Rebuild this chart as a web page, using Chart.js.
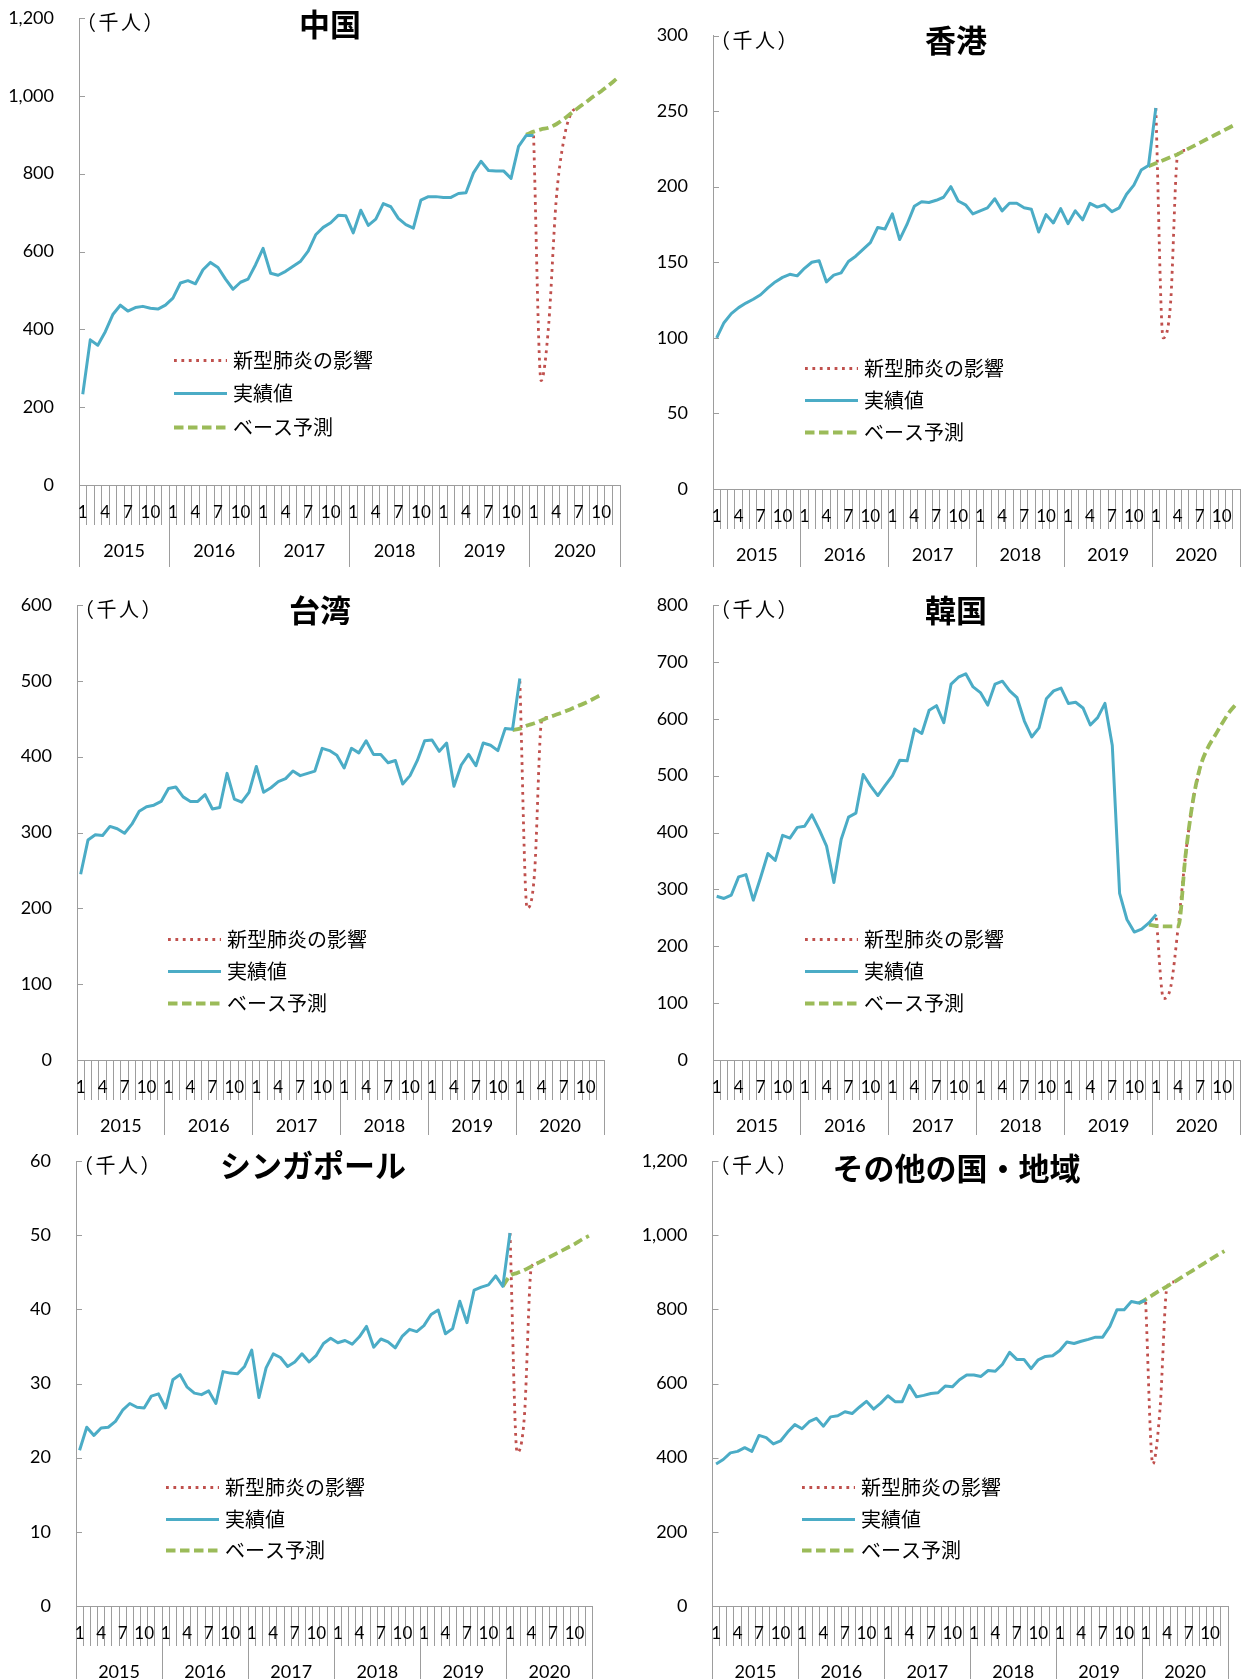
<!DOCTYPE html>
<html lang="ja">
<head>
<meta charset="utf-8">
<title>訪日外客数の見通し</title>
<script src="https://cdn.jsdelivr.net/npm/chart.js@4/dist/chart.umd.min.js"></script>
<style>
  html, body { margin: 0; padding: 0; background: #fff; }
  #wrap { position: relative; width: 1245px; height: 1679px; overflow: hidden; }
  #wrap canvas { position: absolute; }
</style>
</head>
<body>
<div id="wrap"></div>
<script>
// ---- tick labels ----
const monthTicks = ['1', '', '', '4', '', '', '7', '', '', '10', '', ''];
const yearLabels = ['2015', '2016', '2017', '2018', '2019', '2020'];
const seriesNames = ['新型肺炎の影響', '実績値', 'ベース予測'];
const unitLabel = '（千人）';

// ---- monthly values, thousand persons ----
// actual: Jan 2015 - Jan 2020, base: Dec 2019 - Dec 2020, impact: from Jan 2020
const chinaActual = [233, 373, 359, 394, 438, 462, 447, 456, 459, 454, 452, 462,
  480, 519, 525, 517, 553, 572, 559, 529, 503, 521, 529, 566,
  608, 544, 539, 549, 562, 575, 601, 643, 662, 674, 693, 692,
  648, 706, 667, 683, 723, 715, 685, 669, 660, 732, 741, 741,
  739, 739, 749, 751, 802, 832, 808, 807, 807, 788, 870, 898,
  898];
const chinaBase = [900, 908, 914, 918, 927, 940, 955, 970, 984, 999, 1012, 1027, 1043];
const chinaImpact = [898, 268, 410, 730, 885, 955, 970];

const hongkongActual = [100, 110, 116, 120, 123, 125.5, 128.5, 133, 137, 140, 142, 141,
  146, 150, 151, 137, 141.5, 143, 150.5, 154, 158.5, 163, 173, 172,
  182, 165, 175, 187, 190, 189.5, 191, 193, 200, 190.5, 188, 182,
  184, 186, 192, 184, 189, 189, 186, 185, 170, 181.5, 176, 185.5,
  175.5, 184, 178, 189, 186.5, 188, 183.5, 186, 195, 201, 211, 214,
  252];
const hongkongBase = [213.5, 215.5, 217.5, 219.5, 221.5, 224, 226.5, 229, 231.5, 234, 236.5, 239, 241.5];
const hongkongImpact = [252, 100, 122, 221.5, 224];

const taiwanActual = [245, 290, 297, 296, 308, 305, 299, 311, 328, 334, 336, 341,
  358, 360, 347, 341, 341, 350, 331, 333, 378, 344, 340, 353,
  387, 353, 359, 367, 371, 381, 375, 378, 381, 411, 408, 402,
  385, 411, 405, 421, 403, 403, 392, 395, 364, 375, 395, 421,
  422, 407, 418, 361, 389, 403, 388, 418, 415, 408, 437, 436,
  503];
const taiwanBase = [435, 437, 441, 444, 448, 452, 455.5, 459, 463, 467, 471, 476, 481];
const taiwanImpact = [500, 200, 245, 448, 452];

const koreaActual = [288, 284, 290, 322, 326, 281, 321, 363, 351, 395, 390, 409,
  411, 431, 405, 376, 312, 388, 427, 434, 502, 482, 465, 483,
  500, 527, 526, 582, 574, 615, 623, 593, 661, 673, 679, 656,
  646, 624, 661, 666, 649, 637, 596, 568, 584, 635, 649, 654,
  627, 629, 619, 589, 602, 627, 553, 293, 247, 225, 230, 241,
  256];
const koreaBase = [238, 236, 235, 235, 235, 360, 455, 515, 548, 570, 592, 612, 627];
const koreaImpact = [250, 108, 130, 235, 360, 455, 515];

const singaporeActual = [21.0, 24.1, 23.0, 24.0, 24.1, 24.9, 26.4, 27.3, 26.8, 26.7, 28.3, 28.6,
  26.7, 30.5, 31.2, 29.5, 28.7, 28.5, 29.0, 27.3, 31.6, 31.4, 31.3, 32.3,
  34.5, 28.1, 32.1, 34.0, 33.5, 32.3, 32.9, 34.0, 32.9, 33.8, 35.4, 36.1,
  35.5, 35.8, 35.3, 36.3, 37.7, 34.9, 36.0, 35.6, 34.8, 36.4, 37.3, 37.0,
  37.8, 39.3, 39.9, 36.7, 37.4, 41.1, 38.2, 42.6, 43.0, 43.3, 44.5, 43.1,
  50.3];
const singaporeBase = [43.1, 44.5, 44.9, 45.3, 45.8, 46.3, 46.8, 47.3, 47.8, 48.3, 48.8, 49.4, 49.9];
const singaporeImpact = [50.3, 20.7, 25.5, 45.8, 46.3];

const othersActual = [383, 395, 413, 417, 427, 417, 460, 454, 437, 445, 469, 489,
  478, 497, 506, 485, 510, 513, 524, 519, 536, 552, 531, 547,
  567, 551, 551, 595, 564, 568, 573, 575, 593, 591, 610, 623,
  623, 619, 635, 633, 652, 684, 665, 665, 640, 664, 673, 675,
  689, 712, 708, 714, 719, 725, 725, 754, 799, 799, 821, 817,
  825];
const othersBase = [816, 827, 839, 851, 862, 874, 886, 898, 910, 922, 934, 946, 957];
const othersImpact = [820, 383, 530, 862, 874];

// ---- drawing ----
const AXIS_GRAY = '#9d9d9d';
const BLUE = '#4BACC6', GREEN = '#9BBB59', RED = '#C0504D';
const NUM_FONT = 'Lato';
const JP_FONT = '"Noto Sans CJK JP", "Noto Sans CJK SC", sans-serif';

const monthLabels = [];
yearLabels.forEach(() => monthTicks.forEach(m => monthLabels.push(m)));
const N = monthLabels.length;
const BASE_START = N - 13;   // Dec 2019
const IMPACT_START = N - 12; // Jan 2020

function place(start, values) {
  const out = new Array(N).fill(null);
  values.forEach((v, i) => { out[start + i] = v; });
  return out;
}

// canvas box [left, top, width, height] and plot area [left, top, right, bottom] on the page
const panels = [
  { title: '中国', actual: chinaActual, base: chinaBase, impact: chinaImpact, yMax: 1200, yStep: 200,
    box: [0, 0, 622, 567], area: [79, 18, 620, 485], titleDX: 251, titleDY: 6, legendDX: 95 },
  { title: '香港', actual: hongkongActual, base: hongkongBase, impact: hongkongImpact, yMax: 300, yStep: 50,
    box: [625, 0, 620, 567], area: [713, 35.5, 1240, 489], titleDX: 243, titleDY: 5, legendDX: 92 },
  { title: '台湾', actual: taiwanActual, base: taiwanBase, impact: taiwanImpact, yMax: 600, yStep: 100,
    box: [0, 590, 622, 545], area: [77, 605, 604, 1060], titleDX: 243, titleDY: 5, legendDX: 91 },
  { title: '韓国', actual: koreaActual, base: koreaBase, impact: koreaImpact, yMax: 800, yStep: 100,
    box: [625, 590, 620, 545], area: [713, 605, 1240.5, 1060], titleDX: 243, titleDY: 5, legendDX: 92 },
  { title: 'シンガポール', actual: singaporeActual, base: singaporeBase, impact: singaporeImpact, yMax: 60, yStep: 10,
    box: [0, 1140, 622, 539], area: [76, 1161, 592.5, 1606], titleDX: 237, titleDY: 4, legendDX: 90 },
  { title: 'その他の国・地域', actual: othersActual, base: othersBase, impact: othersImpact, yMax: 1200, yStep: 200,
    box: [625, 1140, 620, 539], area: [712.5, 1161, 1228, 1606], titleDX: 244, titleDY: 7, legendDX: 89.5 }
];

// titles, unit, inner value-axis ticks and the in-plot legend
const panelDecor = {
  id: 'panelDecor',
  afterDraw(chart, args, opts) {
    const { ctx, chartArea: a, scales } = chart;
    const ys = scales.y;
    ctx.save();
    ctx.strokeStyle = AXIS_GRAY;
    ctx.lineWidth = 1;
    ys.ticks.forEach(t => {
      const py = Math.round(ys.getPixelForValue(t.value)) + 0.5;
      ctx.beginPath();
      ctx.moveTo(a.left, py);
      ctx.lineTo(a.left + 6, py);
      ctx.stroke();
    });

    ctx.fillStyle = '#000';
    ctx.textBaseline = 'middle';
    ctx.textAlign = 'left';
    ctx.font = '20px ' + JP_FONT;
    if ('letterSpacing' in ctx) ctx.letterSpacing = '2.5px';
    ctx.fillText(unitLabel, a.left - 3, a.top + 4.5);
    if ('letterSpacing' in ctx) ctx.letterSpacing = '0px';

    ctx.textAlign = 'center';
    ctx.font = 'bold 31px ' + JP_FONT;
    ctx.fillText(opts.title, a.left + opts.titleDX, a.top + opts.titleDY);

    const h = a.bottom - a.top;
    const rows = [0.733, 0.804, 0.875];
    const legendOrder = [2, 0, 1];
    const lx = a.left + opts.legendDX;
    ctx.textAlign = 'left';
    ctx.font = '20px ' + JP_FONT;
    legendOrder.forEach((di, r) => {
      const ds = chart.data.datasets[di];
      const ry = Math.round(a.top + rows[r] * h) + 0.5;
      ctx.save();
      ctx.strokeStyle = ds.borderColor;
      ctx.lineWidth = ds.borderWidth;
      ctx.setLineDash(ds.borderDash || []);
      ctx.beginPath();
      ctx.moveTo(lx, ry);
      ctx.lineTo(lx + 53, ry);
      ctx.stroke();
      ctx.restore();
      ctx.fillStyle = '#000';
      ctx.fillText(ds.label, lx + 59, ry);
    });
    ctx.restore();
  }
};

const wrap = document.getElementById('wrap');
const X_H = 38;

panels.forEach(p => {
  const [cl, ct, cw, ch] = p.box;
  const [al, at, ar, ab] = p.area;
  const canvas = document.createElement('canvas');
  canvas.width = cw; canvas.height = ch;
  canvas.style.left = cl + 'px'; canvas.style.top = ct + 'px';
  canvas.style.width = cw + 'px'; canvas.style.height = ch + 'px';
  wrap.appendChild(canvas);

  const yW = al - cl;
  const x2H = (ct + ch) - ab - X_H;

  new Chart(canvas, {
    type: 'line',
    data: {
      labels: monthLabels,
      datasets: [
        { label: seriesNames[1], data: place(0, p.actual), borderColor: BLUE, borderWidth: 3,
          tension: 0, pointRadius: 0, borderJoinStyle: 'round', order: 1 },
        { label: seriesNames[2], data: place(BASE_START, p.base), borderColor: GREEN, borderWidth: 3.8,
          borderDash: [9.5, 4.5], cubicInterpolationMode: 'monotone', pointRadius: 0, order: 2 },
        { label: seriesNames[0], data: place(IMPACT_START, p.impact), borderColor: RED, borderWidth: 2.8,
          borderDash: [2.8, 4.6], cubicInterpolationMode: 'monotone', pointRadius: 0, order: 3 }
      ]
    },
    options: {
      responsive: false,
      animation: false,
      devicePixelRatio: 1,
      layout: { padding: { left: 0, top: at - ct, right: (cl + cw) - ar, bottom: 0 } },
      plugins: {
        legend: { display: false },
        tooltip: { enabled: false },
        panelDecor: { title: p.title, titleDX: p.titleDX, titleDY: p.titleDY, legendDX: p.legendDX }
      },
      scales: {
        x: {
          type: 'category', offset: true, weight: 0,
          grid: { offset: true, drawOnChartArea: false, drawTicks: true, tickLength: 40, color: AXIS_GRAY, lineWidth: 1 },
          border: { display: true, color: AXIS_GRAY, width: 1 },
          ticks: { autoSkip: false, maxRotation: 0, minRotation: 0, padding: -22.5, color: '#000',
                   font: { family: NUM_FONT, size: 17 } },
          afterFit: s => { s.height = X_H; }
        },
        x2: {
          type: 'linear', position: 'bottom', min: 0, max: N, weight: 1,
          grid: { drawOnChartArea: false, drawTicks: true, tickLength: x2H, lineWidth: 1,
                  color: c => (c.tick && c.tick.value % 12 === 0) ? AXIS_GRAY : 'rgba(0,0,0,0)' },
          border: { display: false },
          ticks: { stepSize: 6, autoSkip: false, maxRotation: 0, minRotation: 0, padding: 17.5 - x2H,
                   color: '#000', font: { family: NUM_FONT, size: 18 },
                   callback: v => (v % 12 === 6 ? yearLabels[(v - 6) / 12] : '') },
          afterFit: s => { s.height = x2H; }
        },
        y: {
          type: 'linear', position: 'left', min: 0, max: p.yMax,
          grid: { display: true, drawOnChartArea: false, drawTicks: true, tickLength: 25,
                  tickColor: 'rgba(0,0,0,0)' },
          border: { display: true, color: AXIS_GRAY, width: 1 },
          ticks: { stepSize: p.yStep, padding: 0, color: '#000', font: { family: NUM_FONT, size: 18 },
                   callback: v => v.toLocaleString('en-US') },
          afterFit: s => { s.width = yW; }
        }
      }
    },
    plugins: [panelDecor]
  });
});
</script>
</body>
</html>
